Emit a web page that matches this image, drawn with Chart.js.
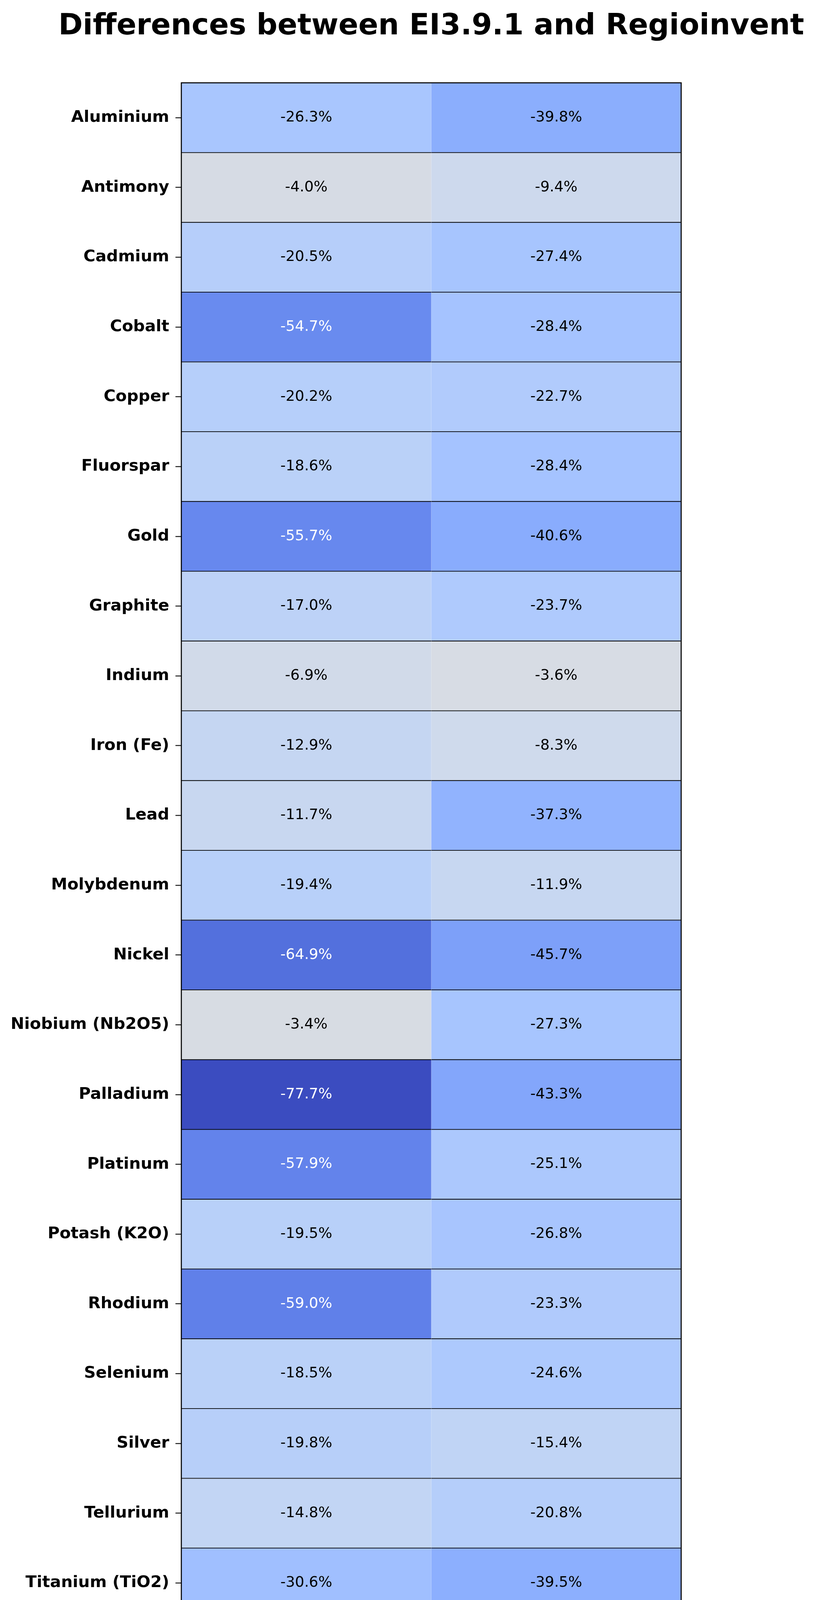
<!DOCTYPE html>
<html>
<head>
<meta charset="utf-8">
<script src="https://cdn.jsdelivr.net/npm/chart.js@4.4.1/dist/chart.umd.min.js"></script>
<style>
  html, body { margin: 0; padding: 0; background: #fff; overflow: hidden; }
  canvas { display: block; }
</style>
</head>
<body>
<canvas id="heatmap" width="2088" height="4929"></canvas>
<script>
const TITLE = 'Differences between EI3.9.1 and Regioinvent';

const materials = [
  'Aluminium', 'Antimony', 'Cadmium', 'Cobalt', 'Copper', 'Fluorspar',
  'Gold', 'Graphite', 'Indium', 'Iron (Fe)', 'Lead', 'Molybdenum',
  'Nickel', 'Niobium (Nb2O5)', 'Palladium', 'Platinum', 'Potash (K2O)', 'Rhodium',
  'Selenium', 'Silver', 'Tellurium', 'Titanium (TiO2)', 'Uranium (U3O8)', 'Zinc',
];

const metrics = ['Total HH (DALY)', 'Total EQ (PDF.m2.yr)'];

// % difference per material
const hhValues = [
  -26.3, -4.0, -20.5, -54.7, -20.2, -18.6,
  -55.7, -17.0, -6.9, -12.9, -11.7, -19.4,
  -64.9, -3.4, -77.7, -57.9, -19.5, -59.0,
  -18.5, -19.8, -14.8, -30.6, -12.5, -21.1,
];
const eqValues = [
  -39.8, -9.4, -27.4, -28.4, -22.7, -28.4,
  -40.6, -23.7, -3.6, -8.3, -37.3, -11.9,
  -45.7, -27.3, -43.3, -25.1, -26.8, -23.3,
  -24.6, -15.4, -20.8, -39.5, -3.3, -23.6,
];

const columns = [hhValues, eqValues];

// matplotlib 'coolwarm', 33 stops
const COOLWARM = [
  [59, 76, 192], [68, 90, 204], [77, 104, 215], [87, 117, 225], [98, 130, 234],
  [108, 142, 241], [119, 154, 247], [130, 165, 251], [141, 176, 254], [152, 185, 255],
  [163, 194, 255], [174, 201, 253], [184, 208, 249], [194, 213, 244], [204, 217, 238],
  [213, 219, 230], [221, 221, 221], [229, 216, 209], [236, 211, 197], [241, 204, 185],
  [245, 196, 173], [247, 187, 160], [247, 177, 148], [247, 166, 135], [244, 154, 123],
  [241, 141, 111], [236, 127, 99], [229, 112, 88], [222, 96, 77], [213, 80, 66],
  [203, 62, 56], [192, 40, 47], [180, 4, 38],
];

// colour range centred on zero
const vmax = Math.max(...columns.flat().map(Math.abs));
const vmin = -vmax;

function cellColor(v) {
  const t = Math.min(1, Math.max(0, (v - vmin) / (vmax - vmin)));
  const pos = t * (COOLWARM.length - 1);
  const i = Math.min(Math.floor(pos), COOLWARM.length - 2);
  const f = pos - i;
  const a = COOLWARM[i], b = COOLWARM[i + 1];
  const c = a.map((x, k) => Math.round(x + (b[k] - x) * f));
  return `rgb(${c[0]}, ${c[1]}, ${c[2]})`;
}

// value text in the middle of each cell + black frame round the plot
const cellText = {
  id: 'cellText',
  afterDatasetsDraw(chart) {
    const ctx = chart.ctx;
    ctx.save();
    ctx.font = '37.5px "DejaVu Sans"';
    ctx.textAlign = 'center';
    ctx.textBaseline = 'middle';
    chart.data.datasets.forEach((ds, di) => {
      chart.getDatasetMeta(di).data.forEach((bar, i) => {
        const v = ds.values[i];
        const p = bar.getCenterPoint();
        ctx.fillStyle = v < -50 ? '#fff' : '#000';
        ctx.fillText(v.toFixed(1) + '%', p.x, p.y);
      });
    });
    const a = chart.chartArea;
    ctx.strokeStyle = '#000';
    ctx.lineWidth = 2.7;
    ctx.strokeRect(a.left, a.top, a.right - a.left, a.bottom - a.top);
    ctx.restore();
  },
};

// title centred over the plot area, not the whole canvas
const plotTitle = {
  id: 'plotTitle',
  afterDraw(chart) {
    const { ctx, chartArea } = chart;
    ctx.save();
    ctx.font = 'bold 75px "DejaVu Sans"';
    ctx.fillStyle = '#000';
    ctx.textAlign = 'center';
    ctx.textBaseline = 'alphabetic';
    ctx.fillText(TITLE, (chartArea.left + chartArea.right) / 2, 88);
    ctx.restore();
  },
};

const tickFont = { family: 'DejaVu Sans', size: 41.7, weight: 'bold' };

new Chart(document.getElementById('heatmap'), {
  type: 'bar',
  data: {
    labels: materials,
    datasets: columns.map((vals, c) => ({
      label: metrics[c],
      data: vals.map(() => [c - 0.5, c + 0.5]),
      values: vals,
      backgroundColor: vals.map(cellColor),
      borderColor: '#000',
      borderWidth: { top: 1.3, bottom: 1.3, left: 0, right: 0 },
      borderSkipped: false,
      categoryPercentage: 1,
      barPercentage: 1,
    })),
  },
  options: {
    indexAxis: 'y',
    responsive: false,
    devicePixelRatio: 1,
    animation: false,
    layout: { padding: { top: 212, right: 345, bottom: 0, left: 0 } },
    plugins: {
      legend: { display: false },
      tooltip: { enabled: false },
      title: { display: false },
    },
    scales: {
      x: {
        type: 'linear',
        min: -0.5,
        max: 1.5,
        afterBuildTicks: (s) => { s.ticks = metrics.map((m, i) => ({ value: i })); },
        afterFit: (s) => { s.height = 430; },
        grid: { drawOnChartArea: false, tickLength: 15, tickWidth: 2.2, tickColor: '#000' },
        border: { display: false },
        ticks: {
          autoSkip: false,
          minRotation: 45,
          maxRotation: 45,
          padding: 8,
          color: '#000',
          font: { ...tickFont, style: 'italic' },
          callback: (v) => metrics[v],
        },
      },
      y: {
        type: 'category',
        stacked: true,
        offset: true,
        afterFit: (s) => { s.width = 464; },
        grid: { offset: false, drawOnChartArea: false, tickLength: 15, tickWidth: 2.2, tickColor: '#000' },
        border: { display: false },
        ticks: { padding: 16, color: '#000', font: tickFont },
      },
    },
  },
  plugins: [cellText, plotTitle],
});
</script>
</body>
</html>
